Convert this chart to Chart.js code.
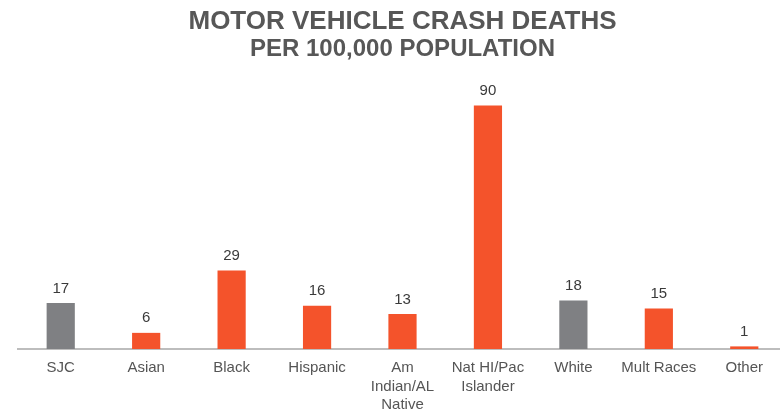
<!DOCTYPE html>
<html>
<head>
<meta charset="utf-8">
<script src="https://cdn.jsdelivr.net/npm/chart.js@4.4.0/dist/chart.umd.min.js"></script>
<style>
  html, body { margin: 0; padding: 0; background: #fff; overflow: hidden; }
  #wrap { width: 787px; height: 424px; }
</style>
</head>
<body>
<div id="wrap"><canvas id="chart"></canvas></div>
<script>
const categories = ["SJC", "Asian", "Black", "Hispanic", ["Am", "Indian/AL", "Native"], ["Nat HI/Pac", "Islander"], "White", "Mult Races", "Other"];
const deaths = [17, 6, 29, 16, 13, 90, 18, 15, 1];
const barColors = ["#7f8083", "#f4532b", "#f4532b", "#f4532b", "#f4532b", "#f4532b", "#7f8083", "#f4532b", "#f4532b"];

// draws the number above each bar
const valueLabels = {
  id: "valueLabels",
  afterDatasetsDraw(chart) {
    const ctx = chart.ctx;
    const meta = chart.getDatasetMeta(0);
    ctx.save();
    ctx.font = "15px 'Liberation Sans', Arial, sans-serif";
    ctx.fillStyle = "#3a3a3a";
    ctx.textAlign = "center";
    ctx.textBaseline = "bottom";
    meta.data.forEach((bar, i) => {
      ctx.fillText(deaths[i], bar.x, bar.y - 7);
    });
    ctx.restore();
  }
};

new Chart(document.getElementById("chart"), {
  type: "bar",
  data: {
    labels: categories,
    datasets: [{
      data: deaths,
      backgroundColor: barColors,
      barPercentage: 0.33,
      categoryPercentage: 1
    }]
  },
  options: {
    responsive: true,
    maintainAspectRatio: false,
    animation: false,
    layout: { padding: { left: 18, right: 0, top: 2, bottom: 0 } },
    plugins: {
      legend: { display: false },
      tooltip: { enabled: false },
      title: {
        display: true,
        text: "MOTOR VEHICLE CRASH DEATHS",
        color: "#575757",
        font: { family: "'Liberation Sans', Arial, sans-serif", size: 26, weight: "bold", lineHeight: 1.1 },
        padding: { top: 6, bottom: 0 }
      },
      subtitle: {
        display: true,
        text: "PER 100,000 POPULATION",
        color: "#575757",
        font: { family: "'Liberation Sans', Arial, sans-serif", size: 24, weight: "bold", lineHeight: 1.1 },
        padding: { top: 0, bottom: 10 }
      }
    },
    scales: {
      x: {
        grid: { display: false, drawTicks: false },
        border: { color: "#bdbdbd", width: 2 },
        ticks: {
          color: "#555",
          padding: 10,
          font: { family: "'Liberation Sans', Arial, sans-serif", size: 15, lineHeight: 1.22 },
          maxRotation: 0,
          autoSkip: false
        }
      },
      y: {
        display: false,
        min: 0,
        max: 102
      }
    }
  },
  plugins: [valueLabels]
});
</script>
</body>
</html>
